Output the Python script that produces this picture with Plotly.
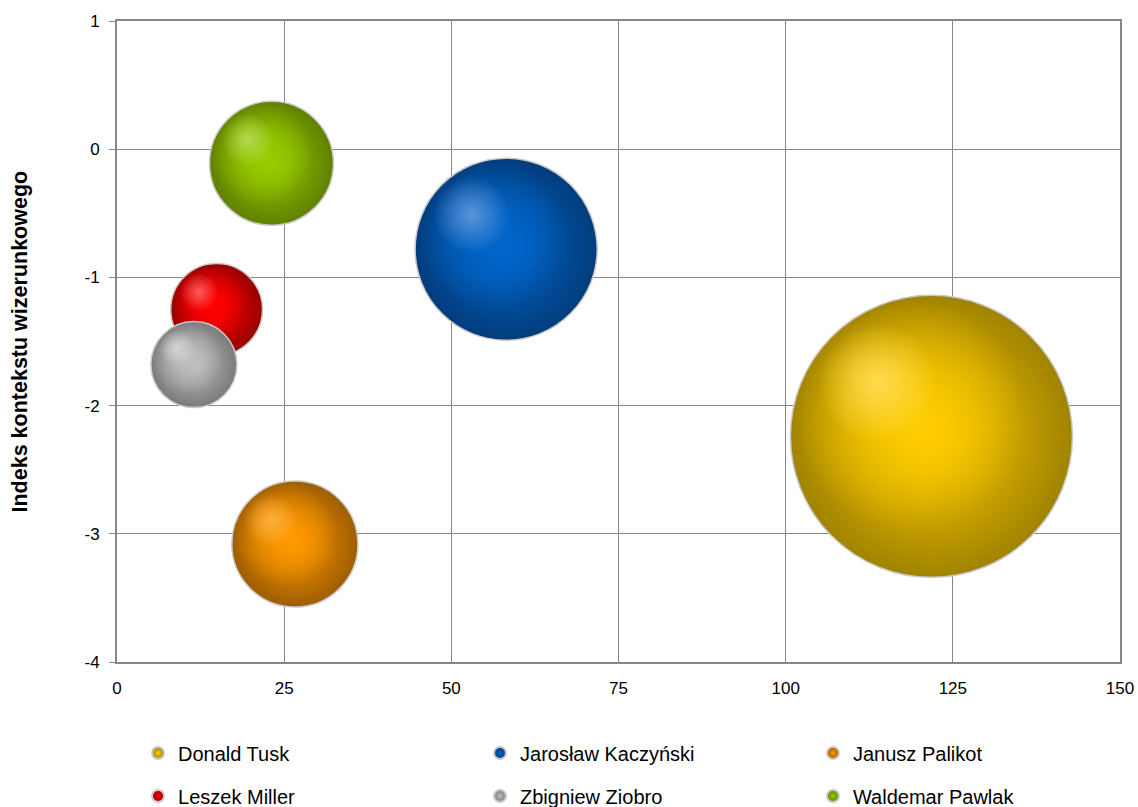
import plotly.graph_objects as go

# Politicians, position (x, y index) and bubble size
names = ["Donald Tusk", "Jarosław Kaczyński", "Janusz Palikot",
         "Leszek Miller", "Zbigniew Ziobro", "Waldemar Pawlak"]
x_vals = [121.8, 58.2, 26.6, 14.9, 11.5, 23.1]
y_vals = [-2.24, -0.78, -3.08, -1.25, -1.68, -0.11]
bubble_sizes = [100.0, 41.7, 20.0, 10.6, 9.3, 19.3]

# shadow edge, body and highlight colours for each bubble
edge_colors = ["#a08300", "#023c7c", "#9e5d00", "#980000", "#7a7a7a", "#608000"]
body_colors = ["#ffcc00", "#0066cc", "#ff9900", "#ff0000", "#bfbfbf", "#99cc00"]
glow_colors = ["#ffdc50", "#5a95da", "#ffb040", "#ff5a5a", "#d4d4d4", "#b3d84f"]
legend_slot = ["legend", "legend2", "legend3", "legend", "legend2", "legend3"]

x_ticks = [0, 25, 50, 75, 100, 125, 150]
y_ticks = [1, 0, -1, -2, -3, -4]

FONT = "Liberation Sans, Arial, sans-serif"
GRID = "#878787"

W, H = 1138, 807
M = dict(l=117, r=18, t=21, b=145)
X_RANGE = [0, 150]
Y_RANGE = [-4, 1]
MAX_DIAM = 282.0
SIZEREF = 2.0 * max(bubble_sizes) / MAX_DIAM ** 2

# pixel scale of the plotting area, used to place the shading spots
px_per_x = (W - M["l"] - M["r"]) / (X_RANGE[1] - X_RANGE[0])
px_per_y = (H - M["t"] - M["b"]) / (Y_RANGE[1] - Y_RANGE[0])


def hex_rgba(h, a):
    h = h.lstrip("#")
    return "rgba(%d,%d,%d,%.2f)" % (int(h[0:2], 16), int(h[2:4], 16), int(h[4:6], 16), a)


def shade_spot(i, diam, shift, scale, center_col, edge_col):
    """A soft round spot drawn over a bubble, shifted towards its upper left."""
    return go.Scatter(
        x=[x_vals[i] - shift * diam / px_per_x],
        y=[y_vals[i] + shift * diam / px_per_y],
        mode="markers",
        showlegend=False,
        hoverinfo="skip",
        marker=dict(
            size=[diam * scale],
            opacity=1,
            color=edge_col,
            gradient=dict(type="radial", color=center_col),
            line=dict(width=0),
        ),
    )


fig = go.Figure()
for i, name in enumerate(names):
    diam = MAX_DIAM * (bubble_sizes[i] / max(bubble_sizes)) ** 0.5
    # sphere body: shaded from the body colour to a dark rim
    fig.add_trace(go.Scatter(
        x=[x_vals[i]], y=[y_vals[i]],
        mode="markers",
        name=name,
        legend=legend_slot[i],
        legendgroup=name,
        marker=dict(
            size=[bubble_sizes[i]],
            sizemode="area",
            sizeref=SIZEREF,
            opacity=1,
            color=edge_colors[i],
            gradient=dict(type="radial", color=body_colors[i]),
            line=dict(color="#c9c9c9", width=1.5),
        ),
        hoverinfo="name+x+y",
    ))
    # broad lit area, then a small bright highlight
    fig.add_trace(shade_spot(i, diam, 0.08, 0.82,
                             hex_rgba(body_colors[i], 1.0),
                             hex_rgba(body_colors[i], 0.0)))
    fig.add_trace(shade_spot(i, diam, 0.19, 0.42,
                             hex_rgba(glow_colors[i], 1.0),
                             hex_rgba(glow_colors[i], 0.0)))

tick_font = dict(size=17, family=FONT, color="#000000")
legend_common = dict(
    orientation="v", xref="container", yref="container",
    xanchor="left", yanchor="top", y=0.091,
    font=dict(size=20, family=FONT, color="#000000"),
    itemsizing="constant", tracegroupgap=14, bgcolor="rgba(0,0,0,0)",
)

fig.update_layout(
    width=W, height=H,
    margin=dict(**M, autoexpand=False),
    paper_bgcolor="white", plot_bgcolor="white",
    font=dict(family=FONT, color="#000000"),
    xaxis=dict(
        range=X_RANGE, tickvals=x_ticks, ticktext=[str(v) for v in x_ticks],
        ticks="", showgrid=True, gridcolor=GRID, gridwidth=1.3,
        showline=True, linecolor=GRID, linewidth=2, mirror=True,
        zeroline=False, tickfont=tick_font, ticklabelstandoff=10,
    ),
    yaxis=dict(
        range=Y_RANGE, tickvals=y_ticks, ticktext=[str(v) for v in y_ticks],
        ticks="outside", ticklen=6, tickcolor=GRID, tickwidth=1.3,
        showgrid=True, gridcolor=GRID, gridwidth=1.3,
        showline=True, linecolor=GRID, linewidth=2, mirror=True,
        zeroline=False, tickfont=tick_font, ticklabelstandoff=6,
    ),
    annotations=[dict(
        text="<b>Indeks kontekstu wizerunkowego</b>",
        xref="paper", yref="paper", x=0, y=0.5,
        xanchor="center", yanchor="middle", xshift=-98,
        textangle=-90, showarrow=False,
        font=dict(size=21.5, family=FONT, color="#000000"),
    )],
    legend=dict(x=0.1213, **legend_common),
    legend2=dict(x=0.4218, **legend_common),
    legend3=dict(x=0.7144, **legend_common),
    showlegend=True,
)

fig.write_html("out.html")
